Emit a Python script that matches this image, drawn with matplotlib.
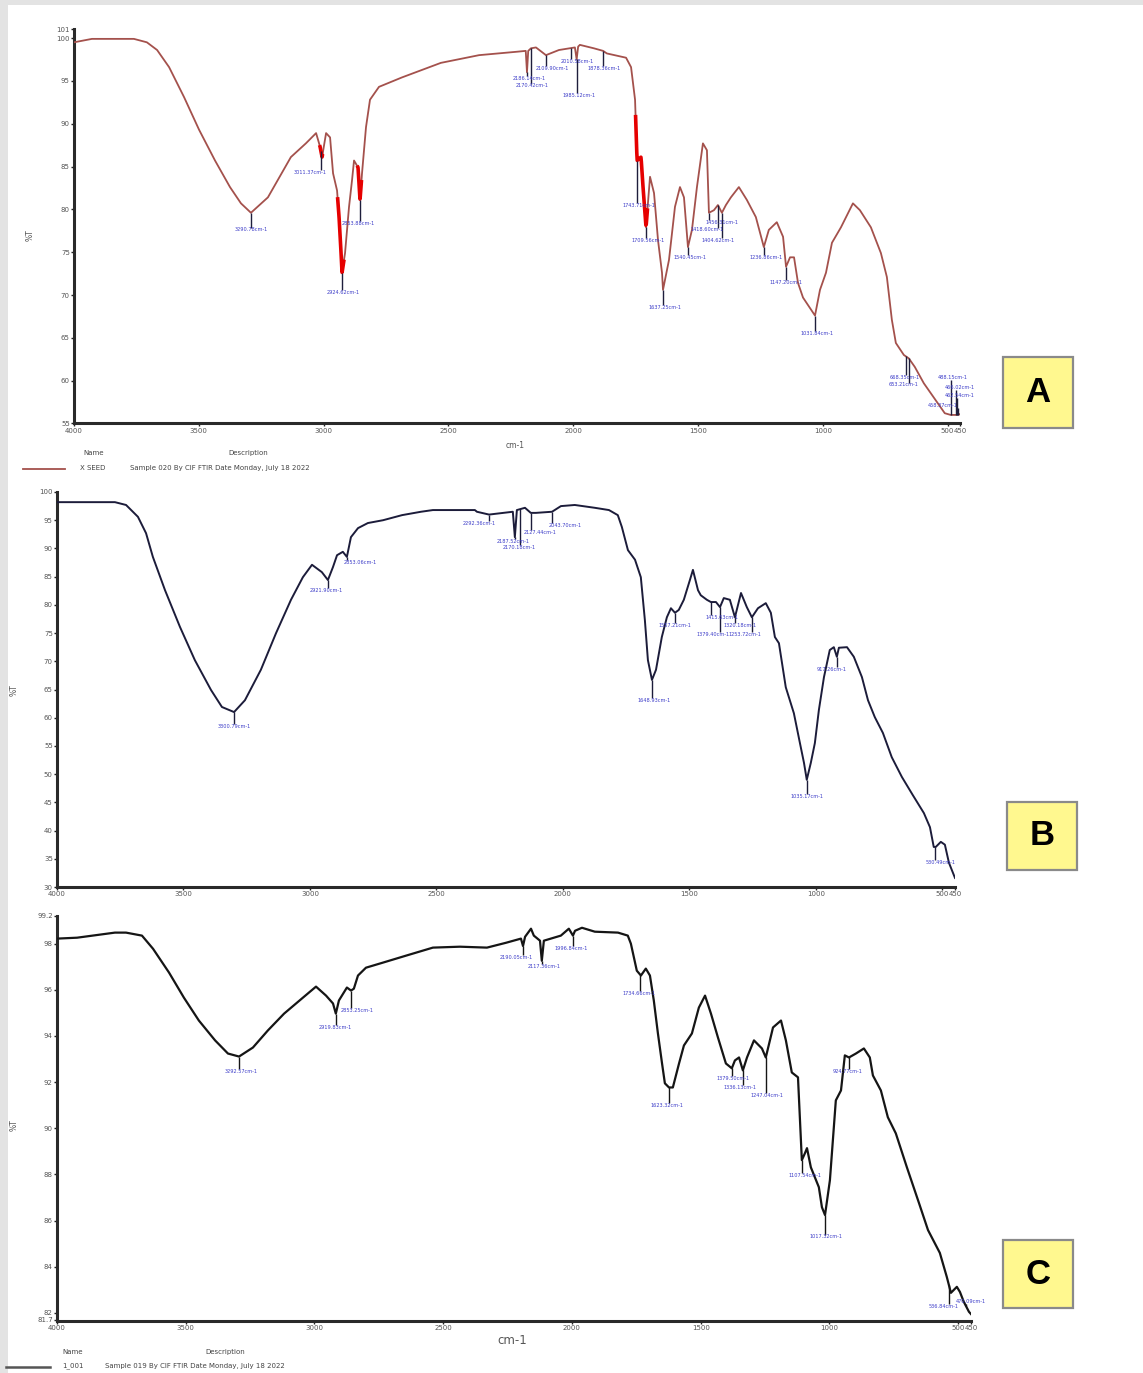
import numpy as np
import matplotlib
matplotlib.use("Agg")
import matplotlib.pyplot as plt
from matplotlib.patches import Rectangle
from matplotlib.lines import Line2D

W, H = 1143, 1373

# ---------------- data: panel A (X SEED) ----------------
a_wn = [4000, 3928, 3760, 3708, 3667, 3619, 3559, 3499, 3435, 3375, 3331, 3291, 3223, 3131, 3071,
        3030, 3014, 3006, 2990, 2974, 2962, 2946, 2938, 2930, 2926, 2914, 2898, 2886, 2878, 2862,
        2854, 2846, 2830, 2814, 2778, 2686, 2530, 2377, 2225, 2190, 2185, 2180, 2169, 2149, 2109,
        2057, 1993, 1986, 1980, 1973, 1917, 1880, 1865, 1788, 1768, 1752, 1744, 1728, 1720, 1708,
        1692, 1676, 1660, 1644, 1640, 1616, 1592, 1572, 1556, 1540, 1524, 1504, 1480, 1464, 1456,
        1436, 1420, 1404, 1388, 1368, 1336, 1304, 1268, 1236, 1216, 1184, 1159, 1147, 1131, 1115,
        1099, 1079, 1031, 1011, 987, 963, 927, 879, 851, 807, 767, 743, 723, 707, 675,
        655, 631, 595, 547, 511, 487, 458, 450]
a_t = [99.5, 99.9, 99.9, 99.5, 98.6, 96.6, 93.1, 89.3, 85.7, 82.6, 80.7, 79.6, 81.4, 86.1, 87.7,
       88.9, 87.3, 86.1, 88.9, 88.4, 84.2, 82.2, 79.1, 74.9, 72.6, 74.9, 80.3, 83.4, 85.7, 84.9,
       81.1, 84.2, 89.6, 92.8, 94.3, 95.4, 97.1, 98.0, 98.4, 98.5, 96.0, 98.5, 98.8, 98.9, 98.0,
       98.6, 98.9, 97.5, 99.0, 99.2, 98.8, 98.5, 98.2, 97.7, 96.6, 92.8, 85.7, 86.1, 82.6, 77.9,
       83.8, 81.9, 76.4, 72.6, 70.6, 74.1, 80.3, 82.6, 81.4, 75.6, 77.6, 82.6, 87.7, 86.9, 79.6,
       79.9, 80.5, 79.6, 80.5, 81.4, 82.6, 81.1, 79.1, 75.6, 77.6, 78.5, 76.8, 73.3, 74.4, 74.4,
       71.4, 69.7, 67.6, 70.6, 72.6, 76.1, 77.9, 80.7, 79.9, 77.9, 74.9, 72.1, 67.1, 64.4, 63.0,
       62.6, 61.6, 59.7, 57.7, 56.2, 56.0, 56.0, 56.1]
a_red_ranges = [(3016, 3004), (2944, 2918), (2866, 2848), (1750, 1702)]
a_pk = [3291, 3011, 2926, 2854, 2185, 2169, 2109, 2010, 1986, 1880, 1744, 1708, 1640, 1540,
        1456, 1420, 1404, 1236, 1147, 1031, 668, 655, 487, 466, 462, 458]
a_lbl = ["3290.78cm-1", "3011.37cm-1", "2924.62cm-1", "2853.88cm-1", "2186.14cm-1", "2170.42cm-1",
         "2109.90cm-1", "2010.58cm-1", "1985.12cm-1", "1878.36cm-1", "1743.71cm-1", "1709.56cm-1",
         "1637.25cm-1", "1540.45cm-1", "1456.31cm-1", "1418.60cm-1", "1404.62cm-1", "1236.86cm-1",
         "1147.20cm-1", "1031.84cm-1", "668.35cm-1", "653.21cm-1", "488.15cm-1", "466.02cm-1",
         "462.54cm-1", "458.37cm-1"]
a_lbl_wn = [3291, 3054, 2922, 2862, 2177, 2165, 2085, 1985, 1977, 1877, 1736, 1700, 1632, 1532,
            1404, 1464, 1420, 1228, 1147, 1023, 671, 675, 478, 452, 452, 518]
a_lbl_t = [77.6, 84.3, 70.3, 78.4, 95.3, 94.4, 96.5, 97.3, 93.3, 96.5, 80.5, 76.4, 68.5, 74.4,
           78.5, 77.6, 76.4, 74.4, 71.5, 65.5, 60.4, 59.5, 60.4, 59.2, 58.3, 57.1]

# ---------------- data: panel B ----------------
b_wn = [4000, 3771, 3727, 3680, 3648, 3621, 3573, 3514, 3455, 3391, 3348, 3300, 3257, 3194, 3134,
        3075, 3028, 2992, 2953, 2929, 2909, 2893, 2870, 2854, 2838, 2810, 2771, 2711, 2636, 2561,
        2514, 2348, 2340, 2292, 2198, 2190, 2182, 2150, 2127, 2107, 2043, 2008, 1953, 1874, 1818,
        1783, 1767, 1743, 1715, 1692, 1676, 1664, 1648, 1632, 1609, 1589, 1573, 1557, 1542, 1522,
        1498, 1486, 1466, 1455, 1431, 1415, 1395, 1379, 1364, 1340, 1320, 1296, 1273, 1253, 1229,
        1198, 1178, 1162, 1146, 1119, 1087, 1063, 1047, 1036, 1020, 1004, 988, 968, 945, 929,
        917, 909, 877, 850, 818, 794, 767, 735, 700, 660, 617, 573, 549, 534, 526,
        506, 490, 474, 450]
b_t = [98.2, 98.2, 97.7, 95.6, 92.7, 88.5, 82.6, 76.1, 70.2, 64.9, 61.9, 61.0, 63.1, 68.5, 75.0,
       80.9, 84.9, 87.1, 85.8, 84.4, 86.7, 88.8, 89.4, 88.5, 92.0, 93.6, 94.5, 95.0, 95.9, 96.5,
       96.8, 96.8, 96.5, 96.0, 96.5, 92.0, 96.8, 97.2, 96.3, 96.3, 96.5, 97.5, 97.7, 97.2, 96.8,
       95.9, 93.8, 89.7, 88.0, 84.9, 77.3, 70.2, 66.7, 68.5, 74.3, 77.8, 79.4, 78.6, 79.1, 80.9,
       84.4, 86.2, 82.6, 81.7, 80.9, 80.5, 80.5, 79.6, 81.2, 80.9, 77.8, 82.1, 79.6, 77.8, 79.4,
       80.3, 78.6, 74.3, 73.2, 65.4, 60.8, 55.5, 52.0, 49.0, 52.0, 55.5, 61.4, 67.2, 72.0, 72.5,
       70.8, 72.4, 72.5, 70.8, 67.2, 63.1, 60.1, 57.3, 53.0, 49.5, 46.3, 43.1, 40.6, 37.1, 37.1,
       38.0, 37.5, 34.3, 31.6]
b_pk = [3300, 2929, 2854, 2292, 2190, 2170, 2127, 2043, 1648, 1557, 1415, 1379, 1320, 1253,
        1036, 917, 530, 474]
b_lbl = ["3300.79cm-1", "2921.90cm-1", "2853.06cm-1", "2292.36cm-1", "2187.52cm-1", "2170.18cm-1",
         "2127.44cm-1", "2043.70cm-1", "1648.93cm-1", "1557.21cm-1", "1415.63cm-1", "1379.40cm-1",
         "1320.18cm-1", "1253.72cm-1", "1035.17cm-1", "917.26cm-1", "530.49cm-1", ""]
b_lbl_wn = [3300, 2937, 2800, 2330, 2198, 2174, 2091, 1990, 1640, 1557, 1372, 1407, 1300, 1281,
            1036, 937, 505, 474]
b_lbl_t = [58.4, 82.5, 87.5, 94.5, 91.3, 90.1, 92.9, 94.0, 63.1, 76.4, 77.8, 74.8, 76.4, 74.8,
           46.1, 68.6, 34.3, 34.8]

# ---------------- data: panel C (1_001) ----------------
c_wn = [4000, 3922, 3775, 3732, 3670, 3627, 3565, 3507, 3449, 3386, 3336, 3293, 3239, 3181, 3118,
        3045, 2994, 2955, 2928, 2917, 2905, 2874, 2858, 2847, 2831, 2800, 2734, 2645, 2540, 2435,
        2330, 2256, 2198, 2190, 2182, 2159, 2148, 2124, 2117, 2109, 2043, 2012, 1996, 1988, 1961,
        1911, 1821, 1783, 1771, 1748, 1732, 1713, 1697, 1682, 1666, 1650, 1639, 1623, 1608, 1584,
        1565, 1534, 1507, 1483, 1460, 1433, 1402, 1379, 1367, 1351, 1336, 1320, 1293, 1262, 1247,
        1219, 1188, 1169, 1146, 1122, 1107, 1095, 1087, 1072, 1041, 1029, 1017, 998, 975, 955,
        940, 924, 897, 866, 843, 831, 800, 773, 742, 699, 652, 617, 571, 544, 528,
        505, 493, 478, 458, 450]
c_t = [98.22, 98.26, 98.48, 98.48, 98.35, 97.78, 96.75, 95.66, 94.67, 93.81, 93.24, 93.11, 93.50, 94.24, 94.97,
       95.66, 96.14, 95.75, 95.41, 94.97, 95.54, 96.10, 95.97, 96.05, 96.62, 96.96, 97.18, 97.48, 97.83, 97.87,
       97.83, 98.04, 98.22, 97.90, 98.30, 98.65, 98.35, 98.13, 97.26, 98.13, 98.35, 98.65, 98.35, 98.56, 98.69,
       98.52, 98.48, 98.35, 98.00, 96.83, 96.62, 96.92, 96.62, 95.54, 94.11, 92.81, 91.95, 91.77, 91.77, 92.81,
       93.59, 94.11, 95.23, 95.75, 94.97, 93.94, 92.81, 92.60, 92.94, 93.07, 92.51, 93.07, 93.81, 93.46, 93.07,
       94.37, 94.67, 93.81, 92.42, 92.21, 88.62, 88.92, 89.14, 88.31, 87.45, 86.58, 86.24, 87.75, 91.21, 91.64,
       93.16, 93.07, 93.24, 93.46, 93.07, 92.29, 91.64, 90.48, 89.78, 88.31, 86.76, 85.59, 84.60, 83.56, 82.87,
       83.13, 82.91, 82.48, 82.05, 81.95]
c_pk = [3293, 2917, 2858, 2190, 2117, 1996, 1735, 1623, 1379, 1336, 1247, 1107, 1017, 924, 536, 470]
c_lbl = ["3292.57cm-1", "2919.83cm-1", "2853.25cm-1", "2190.05cm-1", "2117.36cm-1", "1996.84cm-1",
         "1734.66cm-1", "1623.32cm-1", "1379.50cm-1", "1336.13cm-1", "1247.04cm-1", "1107.54cm-1",
         "1017.32cm-1", "924.77cm-1", "536.84cm-1", "470.09cm-1"]
c_lbl_wn = [3285, 2920, 2835, 2217, 2109, 2004, 1740, 1631, 1375, 1348, 1243, 1095, 1014, 928, 555, 450]
c_lbl_t = [92.47, 94.37, 95.10, 97.39, 97.0, 97.8, 95.84, 91.0, 92.16, 91.77, 91.43, 87.97, 85.29,
           92.47, 82.26, 82.48]

x_ticks = [4000, 3500, 3000, 2500, 2000, 1500, 1000, 500, 450]
x_ticklabels = ["4000", "3500", "3000", "2500", "2000", "1500", "1000", "500", "450"]
a_yticks = [55, 60, 65, 70, 75, 80, 85, 90, 95, 100, 101]
b_yticks = [30, 35, 40, 45, 50, 55, 60, 65, 70, 75, 80, 85, 90, 95, 100]
c_yticks = [81.7, 82, 84, 86, 88, 90, 92, 94, 96, 98, 99.2]

footer_a = ("X SEED", "Sample 020 By CIF FTIR Date Monday, July 18 2022")
footer_c = ("1_001", "Sample 019 By CIF FTIR Date Monday, July 18 2022")

# ---------------- drawing ----------------
fig = plt.figure(figsize=(W / 100, H / 100), dpi=100)
fig.patch.set_facecolor("white")

def px(x, y):
    return x / W, 1 - y / H

def rect(l, r, t, b):
    return [l / W, 1 - b / H, (r - l) / W, (b - t) / H]

# light gray frame at the left/top edge
fig.patches.append(Rectangle((0, 0), 8 / W, 1, transform=fig.transFigure, facecolor="#e3e3e3",
                             edgecolor="none", zorder=0))
fig.patches.append(Rectangle((0, 1 - 5 / H), 1, 5 / H, transform=fig.transFigure, facecolor="#e3e3e3",
                             edgecolor="none", zorder=0))

tick_col = "#555555"
lbl_col = "#3c3cc8"

def style_axes(ax, ylim, yticks, ylabels):
    ax.set_xlim(4000, 450)
    ax.set_ylim(*ylim)
    for s in ("top", "right"):
        ax.spines[s].set_visible(False)
    for s in ("left", "bottom"):
        ax.spines[s].set_linewidth(2.2)
        ax.spines[s].set_color("#2a2a2a")
    ax.set_xticks(x_ticks)
    ax.set_xticklabels(x_ticklabels)
    ax.set_yticks(yticks)
    ax.set_yticklabels(ylabels)
    ax.tick_params(axis="both", direction="out", length=2, width=1, colors="#222222",
                   labelsize=5, labelcolor=tick_col, pad=1)
    ax.patch.set_alpha(0)

def draw_peaks(ax, wn, t, pk, lbl, lwn, lt, mcol):
    wr = np.array(wn[::-1], float)
    tr = np.array(t[::-1], float)
    span = ax.get_ylim()[1] - ax.get_ylim()[0]
    gap = span * 0.006
    for p, s, xw, yt in zip(pk, lbl, lwn, lt):
        yc = float(np.interp(p, wr, tr))
        if yt < yc:
            end = yt + gap
        else:
            end = yt - gap
        ax.plot([p, p], [yc, end], color=mcol, lw=1.0, zorder=4, solid_capstyle="butt")
        if s:
            ax.text(xw, yt, s, fontsize=3.6, color=lbl_col, ha="center", va="center",
                    clip_on=False, zorder=5)

def letter_box(x0, y0, x1, y1, letter):
    fx, fy = px(x0, y1)
    fig.patches.append(Rectangle((fx, fy), (x1 - x0) / W, (y1 - y0) / H, transform=fig.transFigure,
                                 facecolor="#fff88f", edgecolor="#8a8a8a", lw=1.6, zorder=3))
    cx, cy = px((x0 + x1) / 2, (y0 + y1) / 2)
    fig.text(cx, cy, letter, fontsize=25, fontweight="bold", ha="center", va="center",
             family="Liberation Sans", color="black", zorder=4)

# Panel A
axA = fig.add_axes(rect(74, 960, 28.6, 423.5))
style_axes(axA, (55, 101.1), a_yticks, [str(v) for v in a_yticks])
axA.plot(a_wn, a_t, color="#a4514c", lw=1.3, zorder=3)
wr, tr = np.array(a_wn[::-1], float), np.array(a_t[::-1], float)
for w1, w2 in a_red_ranges:
    ww = np.linspace(w1, w2, 30)
    axA.plot(ww, np.interp(ww, wr, tr), color="#e60000", lw=2.6, zorder=3.5, solid_capstyle="butt")
draw_peaks(axA, a_wn, a_t, a_pk, a_lbl, a_lbl_wn, a_lbl_t, "#1e1e3c")

# Panel B
axB = fig.add_axes(rect(57, 955, 492, 887))
style_axes(axB, (30, 100), b_yticks, [str(v) for v in b_yticks])
axB.plot(b_wn, b_t, color="#1c1c3a", lw=1.4, zorder=3)
draw_peaks(axB, b_wn, b_t, b_pk, b_lbl, b_lbl_wn, b_lbl_t, "#1c1c3a")

# Panel C
axC = fig.add_axes(rect(57, 971, 916, 1321))
style_axes(axC, (81.65, 99.17), c_yticks,
           ["81.7", "82", "84", "86", "88", "90", "92", "94", "96", "98", "99.2"])
axC.plot(c_wn, c_t, color="#151515", lw=1.6, zorder=3)
draw_peaks(axC, c_wn, c_t, c_pk, c_lbl, c_lbl_wn, c_lbl_t, "#151515")

# axis titles
fig.text(*px(30, 235), "%T", rotation=90, fontsize=5.5, color=tick_col, ha="center", va="center")
fig.text(*px(14, 690), "%T", rotation=90, fontsize=5.5, color=tick_col, ha="center", va="center")
fig.text(*px(14, 1125), "%T", rotation=90, fontsize=5.5, color=tick_col, ha="center", va="center")
fig.text(*px(515, 445), "cm-1", fontsize=5.5, color=tick_col, ha="center", va="center")
fig.text(*px(512, 1341), "cm-1", fontsize=8.5, color=tick_col, ha="center", va="center")

# footers (sample legend)
fig.text(*px(83, 453), "Name", fontsize=5, color="#444444", ha="left", va="center")
fig.text(*px(228, 453), "Description", fontsize=5, color="#444444", ha="left", va="center")
fig.add_artist(Line2D([23 / W, 65 / W], [1 - 469 / H] * 2, color="#a4514c", lw=1.3,
                      transform=fig.transFigure))
fig.text(*px(80, 468), footer_a[0], fontsize=5, color="#444444", ha="left", va="center")
fig.text(*px(130, 468), footer_a[1], fontsize=5, color="#444444", ha="left", va="center")

fig.text(*px(62, 1352), "Name", fontsize=5, color="#444444", ha="left", va="center")
fig.text(*px(205, 1352), "Description", fontsize=5, color="#444444", ha="left", va="center")
fig.add_artist(Line2D([6 / W, 50 / W], [1 - 1367 / H] * 2, color="#555555", lw=1.8,
                      transform=fig.transFigure))
fig.text(*px(62, 1366), footer_c[0], fontsize=5, color="#444444", ha="left", va="center")
fig.text(*px(105, 1366), footer_c[1], fontsize=5, color="#444444", ha="left", va="center")

# panel letters
letter_box(1003, 357, 1073, 428, "A")
letter_box(1007, 802, 1077, 870, "B")
letter_box(1003, 1240, 1073, 1308, "C")

fig.savefig("out.png", dpi=100)
